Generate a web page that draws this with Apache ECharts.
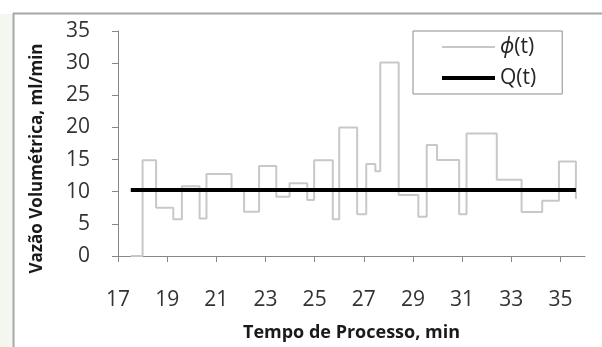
<!DOCTYPE html>
<html>
<head>
<meta charset="utf-8">
<script src="https://cdn.jsdelivr.net/npm/echarts@6/dist/echarts.min.js"></script>
<style>
html,body{margin:0;padding:0;background:#fff;}
#chart{width:602px;height:347px;}
</style>
</head>
<body>
<div id="chart"></div>
<script>
// Step series phi(t): each time is where a new level starts; last point closes the final step
const phiTimes  = [17.52, 18.0, 18.55, 19.25, 19.6, 20.32, 20.6, 21.62, 22.13, 22.74, 23.44, 23.98, 24.7, 24.98, 25.74, 26.0, 26.73, 27.1, 27.47, 27.67, 28.42, 29.22, 29.56, 29.98, 30.88, 31.18, 32.41, 33.42, 34.26, 34.94, 35.63];
const phiValues = [0, 14.9, 7.5, 5.7, 10.85, 5.85, 12.75, 10.25, 6.9, 14.0, 9.2, 11.3, 8.7, 14.9, 5.7, 20.0, 6.5, 14.3, 13.2, 30.1, 9.5, 6.1, 17.25, 14.95, 6.5, 19.05, 11.85, 6.86, 8.6, 14.7, 8.9];
const qTimes  = [17.52, 35.63];
const qValues = [10.25, 10.25];
const xTickLabels = [17, 19, 21, 23, 25, 27, 29, 31, 33, 35];
const yTickLabels = [0, 5, 10, 15, 20, 25, 30, 35];
const seriesNames = ['\u03d5(t)', 'Q(t)'];
const xTitle = 'Tempo de Processo, min';
const yTitle = 'Vazão Volumétrica, ml/min';

const FONT = '"Open Sans", "Noto Sans", sans-serif';
const chart = echarts.init(document.getElementById('chart'), null, {renderer: 'canvas'});

chart.setOption({
  animation: false,
  backgroundColor: '#ffffff',
  textStyle: {fontFamily: FONT},
  graphic: [
    {type: 'rect', shape: {x: 0, y: 14, width: 12, height: 333}, style: {fill: '#f3f7ef'}, silent: true},
    {type: 'line', shape: {x1: 13, y1: 13.5, x2: 602, y2: 13.5}, style: {stroke: '#a6a6a6', lineWidth: 2}, silent: true},
    {type: 'line', shape: {x1: 13.5, y1: 13, x2: 13.5, y2: 347}, style: {stroke: '#a6a6a6', lineWidth: 2}, silent: true}
  ],
  grid: {left: 118, right: 17, top: 31, bottom: 87, containLabel: false},
  legend: {
    orient: 'vertical',
    left: 413, top: 31,
    backgroundColor: '#ffffff',
    borderColor: '#8c8c8c', borderWidth: 1,
    padding: [3, 26, 3, 29],
    itemGap: 5,
    itemWidth: 53, itemHeight: 14,
    symbolKeepAspect: true,
    data: [
      {name: seriesNames[0], icon: 'path://M0,0h53v2h-53z', itemStyle: {color: '#c8c8c8'}},
      {name: seriesNames[1], icon: 'path://M0,0h53v4h-53z', itemStyle: {color: '#000000'}}
    ],
    formatter: function (name) {
      return name === seriesNames[0] ? '{i|\u03d5}{n|(t)}' : '{n|' + name + '}';
    },
    textStyle: {
      fontFamily: FONT, fontSize: 21, color: '#262626', lineHeight: 26,
      rich: {
        i: {fontFamily: FONT, fontSize: 21, fontStyle: 'italic', color: '#262626', lineHeight: 26},
        n: {fontFamily: FONT, fontSize: 21, color: '#262626', lineHeight: 26}
      }
    }
  },
  xAxis: {
    type: 'value', min: 17, max: 36,
    name: xTitle, nameLocation: 'middle', nameGap: 68,
    nameTextStyle: {fontFamily: FONT, fontSize: 18, fontWeight: 'bold', color: '#1a1a1a'},
    axisLine: {show: true, lineStyle: {color: '#878787', width: 1}},
    axisTick: {show: true, length: 6, customValues: xTickLabels, lineStyle: {color: '#878787'}},
    axisLabel: {customValues: xTickLabels, fontFamily: FONT, fontSize: 21, color: '#333333', margin: 34},
    splitLine: {show: false}
  },
  yAxis: {
    type: 'value', min: 0, max: 35, interval: 5,
    name: yTitle, nameLocation: 'middle', nameGap: 72,
    nameTextStyle: {fontFamily: FONT, fontSize: 17, fontWeight: 'bold', color: '#1a1a1a', padding: [0, 30, 0, 0]},
    axisLine: {show: true, lineStyle: {color: '#878787', width: 1}},
    axisTick: {show: true, length: 6, lineStyle: {color: '#878787'}},
    axisLabel: {fontFamily: FONT, fontSize: 21, color: '#333333', margin: 28,
      formatter: function (v) { return yTickLabels.indexOf(v) >= 0 ? String(v) : ''; }},
    splitLine: {show: false}
  },
  series: [
    {
      name: seriesNames[0], type: 'line', step: 'end',
      data: phiTimes.map((t, i) => [t, phiValues[i]]),
      symbol: 'none', showSymbol: false,
      lineStyle: {color: '#c8c8c8', width: 2},
      itemStyle: {color: '#c8c8c8'},
      z: 2
    },
    {
      name: seriesNames[1], type: 'line',
      data: qTimes.map((t, i) => [t, qValues[i]]),
      symbol: 'none', showSymbol: false,
      lineStyle: {color: '#000000', width: 4},
      itemStyle: {color: '#000000'},
      z: 3
    }
  ]
});
</script>
</body>
</html>
